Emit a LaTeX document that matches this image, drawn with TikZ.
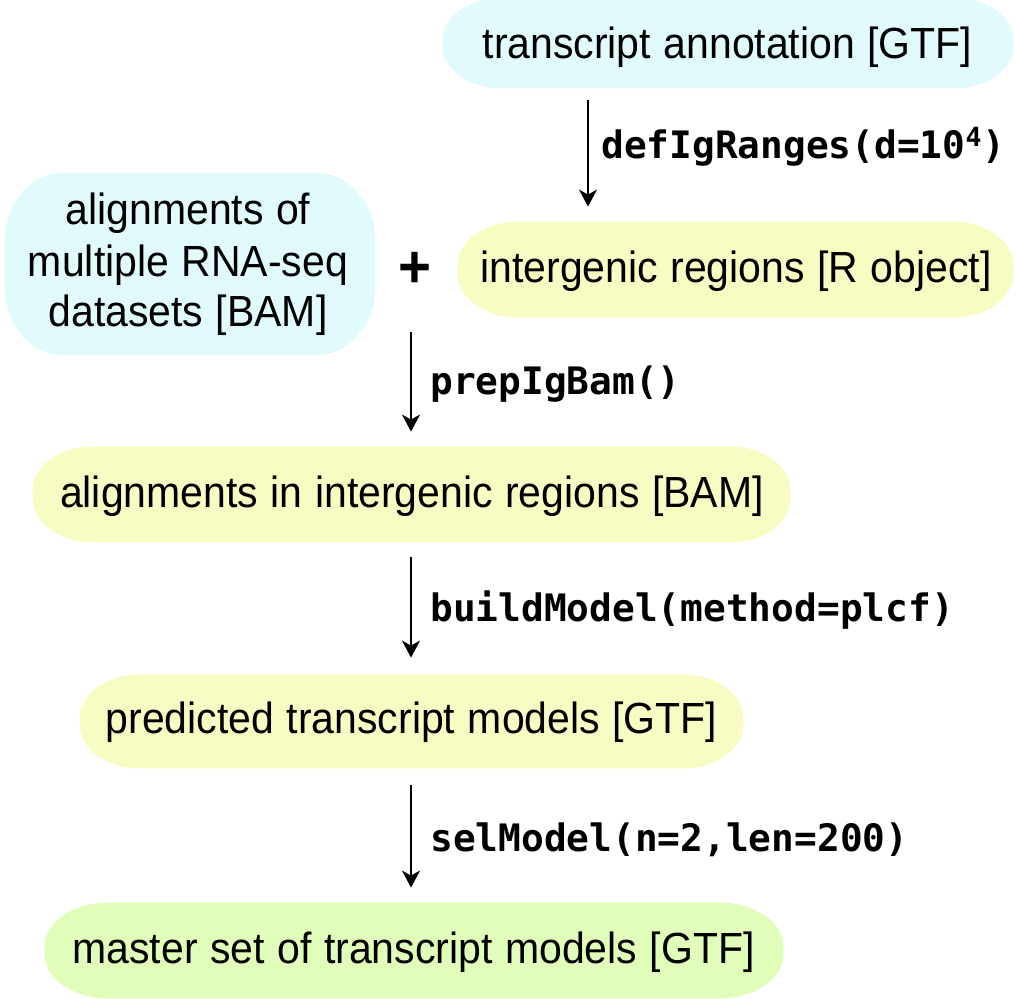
\documentclass[tikz,border=0pt]{standalone}
\usepackage{fontspec}
\setmainfont[FakeStretch=0.94, WordSpace=1.1]{Liberation Sans}
\setmonofont{DejaVu Sans Mono}
\usetikzlibrary{arrows.meta}
\definecolor{cyanbox}{HTML}{E1FBFD}
\definecolor{yellowbox}{HTML}{F8FBC2}
\definecolor{greenbox}{HTML}{E0FDB9}
\newcommand\pillfill[4]{% node, colour, x radius, y radius
  \fill[#2] ([xshift=#3]#1.north west) -- ([xshift=-#3]#1.north east)
    arc[start angle=90, end angle=0, x radius=#3, y radius=#4]
    -- ([yshift=#4]#1.south east)
    arc[start angle=0, end angle=-90, x radius=#3, y radius=#4]
    -- ([xshift=#3]#1.south west)
    arc[start angle=270, end angle=180, x radius=#3, y radius=#4]
    -- ([yshift=-#4]#1.north west)
    arc[start angle=180, end angle=90, x radius=#3, y radius=#4] -- cycle;}
\tikzset{
  x=0.5pt, y=-0.5pt,
  pill/.style={rectangle, inner sep=0pt, minimum width=#1},
  txt/.style={anchor=base, inner sep=0pt, font=\fontsize{21.8}{25}\selectfont},
  fn/.style={anchor=base west, inner sep=0pt, font=\fontsize{18.9}{21}\selectfont\ttfamily\bfseries},
  arr/.style={line width=1.05pt, -{Stealth[length=8.5pt,width=9pt,inset=2.5pt]}}
}
\begin{document}
\begin{tikzpicture}
\useasboundingbox (0,0) rectangle (1016,999);
% box shapes
\node[pill=285pt, minimum height=45pt] (gtf) at (728,43) {};
\node[pill=185pt, minimum height=91pt] (bam) at (190,264) {};
\node[pill=277.5pt, minimum height=47.5pt] (igr) at (735.5,269.5) {};
\node[pill=378.5pt, minimum height=47.5pt] (igbam) at (411.5,494.5) {};
\node[pill=331.5pt, minimum height=46.5pt] (pred) at (411.5,721.5) {};
\node[pill=369pt, minimum height=47.5pt] (master) at (414,950.5) {};
\pillfill{gtf}{cyanbox}{30pt}{21pt}
\pillfill{bam}{cyanbox}{30pt}{34pt}
\pillfill{igr}{yellowbox}{30pt}{22pt}
\pillfill{igbam}{yellowbox}{30pt}{22pt}
\pillfill{pred}{yellowbox}{30pt}{22pt}
\pillfill{master}{greenbox}{32pt}{22pt}
% texts
\node[txt] (gtft) at (727.5,59) {transcript annotation [GTF]};
\node[txt] (bam1) at (188,225) {alignments of};
\node[txt] (bam2) at (188,277) {multiple RNA-seq};
\node[txt] (bam3) at (188,327) {datasets [BAM]};
\node[txt] (igrt) at (736,283) {intergenic regions [R object]};
\node[txt] (igbamt) at (412,507) {alignments in intergenic regions [BAM]};
\node[txt] (predt) at (411.5,733) {predicted transcript models [GTF]};
\node[txt] (mastert) at (413.5,963) {master set of transcript models [GTF]};
\node[inner sep=0pt, font=\fontsize{30}{30}\selectfont\bfseries] (plus) at (415,270) {+};
% connectors
\coordinate (a1) at (588,0);
\coordinate (a2) at (411,332);
\draw[arr, shorten <=6pt, shorten >=7.5pt] (gtf.south -| a1) -- (igr.north -| a1);
\draw[arr, shorten >=7.5pt] (a2) -- (igbam.north -| a2);
\draw[arr, shorten <=7.5pt, shorten >=8.5pt] (igbam.south -| a2) -- (pred.north -| a2);
\draw[arr, shorten <=8.5pt, shorten >=7.5pt] (pred.south -| a2) -- (master.north -| a2);
% labels
\node[fn] (l1) at (601,159) {defIgRanges(d=10\textsuperscript{4})};
\node[fn] (l2) at (430,395) {prepIgBam()};
\node[fn] (l3) at (430,621) {buildModel(method=plcf)};
\node[fn] (l4) at (430,851) {selModel(n=2,len=200)};
\end{tikzpicture}
\end{document}
